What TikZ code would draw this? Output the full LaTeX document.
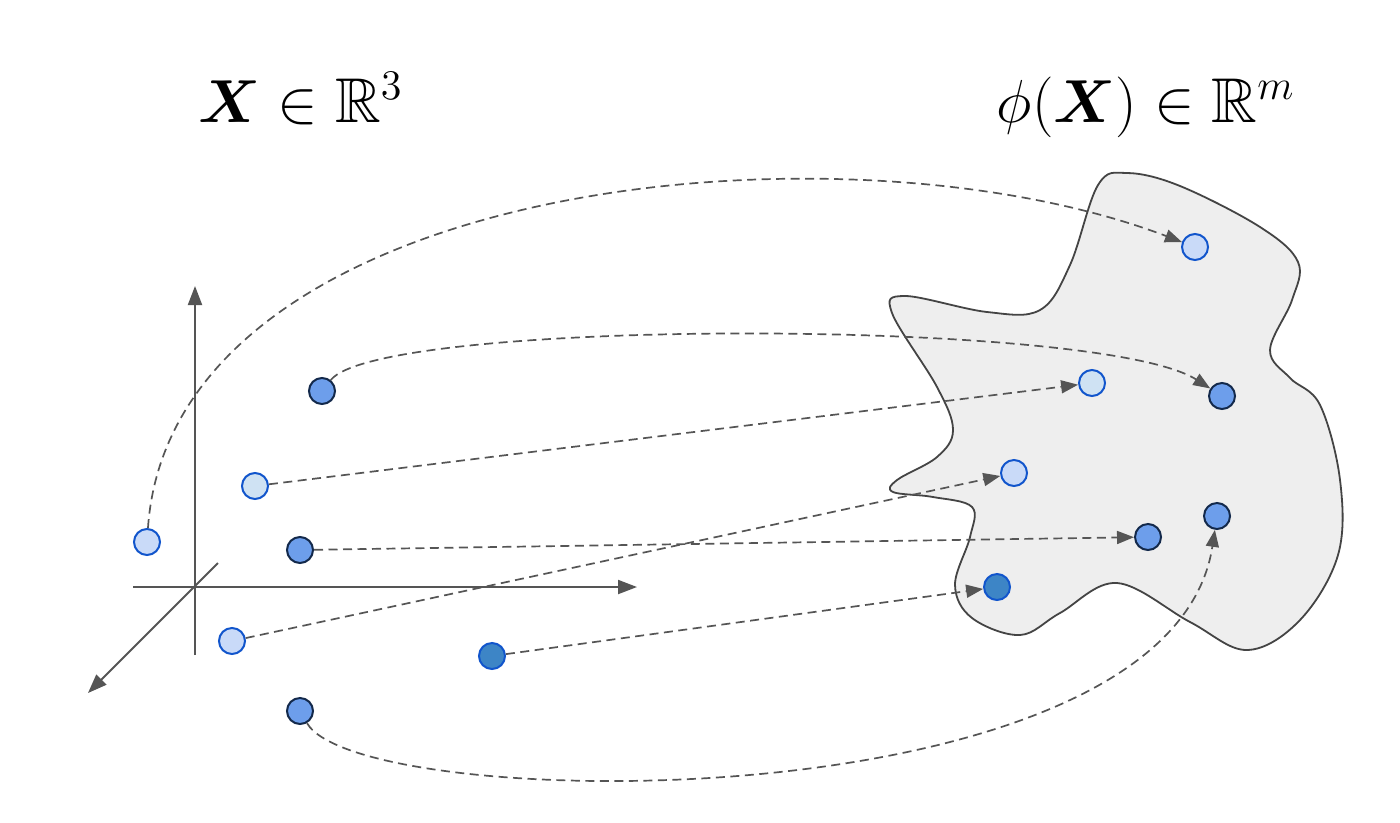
\documentclass[tikz,border=0pt]{standalone}
\usepackage{amsmath,amssymb}
\usetikzlibrary{arrows.meta}
\definecolor{linec}{HTML}{555555}
\definecolor{shapefill}{HTML}{EEEEEE}
\definecolor{shapeline}{HTML}{444444}
\definecolor{lightfill}{HTML}{C9DAF8}
\definecolor{palefill}{HTML}{CFE2F3}
\definecolor{darkfill}{HTML}{6D9EEB}
\definecolor{medfill}{HTML}{3D85C6}
\definecolor{blueline}{HTML}{1155CC}
\definecolor{navyline}{HTML}{13294B}
\tikzset{
  pt/.style={circle, minimum size=2.6mm, inner sep=0pt, line width=0.2mm},
  ptlight/.style={pt, fill=lightfill, draw=blueline},
  ptpale/.style={pt, fill=palefill, draw=blueline},
  ptdark/.style={pt, fill=darkfill, draw=navyline},
  ptmed/.style={pt, fill=medfill, draw=blueline},
  conn/.style={draw=linec, line width=0.17mm, dash pattern=on 0.9mm off 0.55mm,
    -{Triangle[length=1.7mm,width=1.3mm]}},
  axis/.style={draw=linec, line width=0.2mm},
  axisarrow/.style={axis, -{Triangle[length=1.9mm,width=1.4mm]}},
  title/.style={font=\fontsize{18}{22}\selectfont, inner sep=0pt, anchor=base}
}
\begin{document}
\begin{tikzpicture}[x=0.1mm,y=-0.1mm]
\useasboundingbox (0,0) rectangle (1400,822);
\fill[white] (0,0) rectangle (1400,822);

% titles
\node[title] (t1) at (301,122) {$\boldsymbol{X}\in\mathbb{R}^3$};
\node[title] (t2) at (1146,122) {$\phi(\boldsymbol{X})\in\mathbb{R}^m$};

% feature space blob
\draw[fill=shapefill, draw=shapeline, line width=0.18mm]
  plot[smooth cycle, tension=0.6] coordinates {
   (1127,173) (1180,186) (1260,227) (1298,262) (1292,300) (1270,350)
   (1290,378) (1320,405) (1340,480) (1338,555) (1300,620) (1247,650)
   (1190,622) (1117,583) (1060,613) (1020,635) (972,618) (955,585)
   (970,537) (972,507) (933,497) (893,492) (897,480) (937,457) (953,430)
   (937,387) (892,313) (905,296) (987,312) (1040,310) (1070,265) (1098,185)
  };

% axes
\coordinate (o) at (195,587);
\coordinate (vb) at (195,655);
\coordinate (vt) at (195,286);
\coordinate (hl) at (133,587);
\coordinate (hr) at (637,587);
\coordinate (du) at (218,563);
\coordinate (dl) at (88,693);
\draw[axisarrow] (vb) -- (vt);
\draw[axisarrow] (hl) -- (hr);
\draw[axisarrow] (du) -- (dl);

% input points
\node[ptlight] (L1) at (147,542) {};
\node[ptpale]  (L2) at (255,486) {};
\node[ptdark]  (D1) at (322,391) {};
\node[ptdark]  (D2) at (300,550) {};
\node[ptlight] (L3) at (232,641) {};
\node[ptmed]   (M1) at (492,656) {};
\node[ptdark]  (D3) at (300,711) {};

% mapped points
\node[ptlight] (R1) at (1195,247) {};
\node[ptpale]  (R2) at (1092,383) {};
\node[ptdark]  (R3) at (1222,396) {};
\node[ptlight] (R4) at (1014,473) {};
\node[ptdark]  (R5) at (1148,537) {};
\node[ptdark]  (R6) at (1217,516) {};
\node[ptmed]   (R7) at (997,587) {};

% mappings
\draw[conn] (L1) .. controls (172,180) and (840,112) .. (R1);
\draw[conn] (D1) .. controls (380,318) and (1100,318) .. (R3);
\draw[conn] (L2) -- (R2);
\draw[conn] (D2) -- (R5);
\draw[conn] (L3) -- (R4);
\draw[conn] (M1) -- (R7);
\draw[conn] (D3) .. controls (360,815) and (1170,825) .. (R6);
\end{tikzpicture}
\end{document}
